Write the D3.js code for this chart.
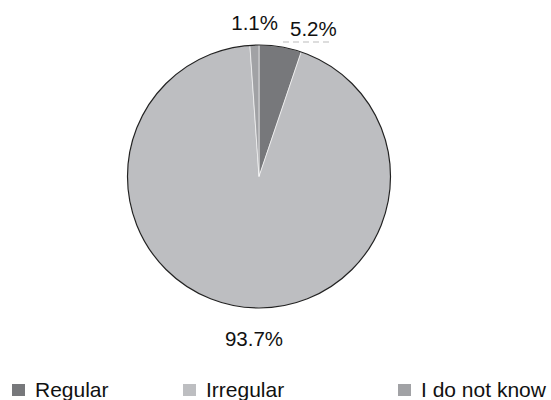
<!DOCTYPE html>
<html>
<head>
<meta charset="utf-8">
<script src="https://cdn.jsdelivr.net/npm/d3@7"></script>
<style>
  html, body { margin: 0; padding: 0; background: #fff; }
  svg { display: block; }
  text { font-family: "Liberation Sans", Arial, sans-serif; fill: #111; }
</style>
</head>
<body>
<svg id="chart" width="551" height="400"></svg>
<script>
// Share of responses, in percent
const categories = ["Regular", "Irregular", "I do not know"];
const values = [5.2, 93.7, 1.1];
const labels = ["5.2%", "93.7%", "1.1%"];
const colors = ["#77787b", "#bdbec1", "#a1a2a5"];

const svg = d3.select("#chart");
const cx = 259, cy = 176.5, r = 131.5;

const pie = d3.pie().sort(null).value(d => d)(values);
const arc = d3.arc().innerRadius(0).outerRadius(r);

const g = svg.append("g").attr("transform", `translate(${cx},${cy})`);

g.selectAll("path.slice")
  .data(pie)
  .join("path")
  .attr("class", "slice")
  .attr("d", arc)
  .attr("fill", (d, i) => colors[i])
  .attr("stroke", "#fff")
  .attr("stroke-width", 0.6);

// outer rim
g.append("circle")
  .attr("r", r)
  .attr("fill", "none")
  .attr("stroke", "#222")
  .attr("stroke-width", 1.2);

// value labels
const labelPos = [
  { x: 290, y: 36, anchor: "start" },
  { x: 254, y: 346, anchor: "middle" },
  { x: 278, y: 30, anchor: "end" }
];
svg.selectAll("text.val")
  .data(pie)
  .join("text")
  .attr("class", "val")
  .attr("x", (d, i) => labelPos[i].x)
  .attr("y", (d, i) => labelPos[i].y)
  .attr("text-anchor", (d, i) => labelPos[i].anchor)
  .attr("font-size", 20.5)
  .text((d, i) => labels[i]);

// faint leader under the small-slice label
svg.append("line")
  .attr("x1", 283).attr("x2", 332)
  .attr("y1", 42).attr("y2", 42)
  .attr("stroke", "#bbb")
  .attr("stroke-width", 1)
  .attr("stroke-dasharray", "6,4");

// legend
const legendX = [12, 183, 398];
const leg = svg.selectAll("g.leg")
  .data(categories)
  .join("g")
  .attr("class", "leg")
  .attr("transform", (d, i) => `translate(${legendX[i]},384)`);
leg.append("rect")
  .attr("width", 13).attr("height", 12)
  .attr("fill", (d, i) => colors[i]);
leg.append("text")
  .attr("x", 23).attr("y", 12.5)
  .attr("font-size", 21)
  .text(d => d);
</script>
</body>
</html>
